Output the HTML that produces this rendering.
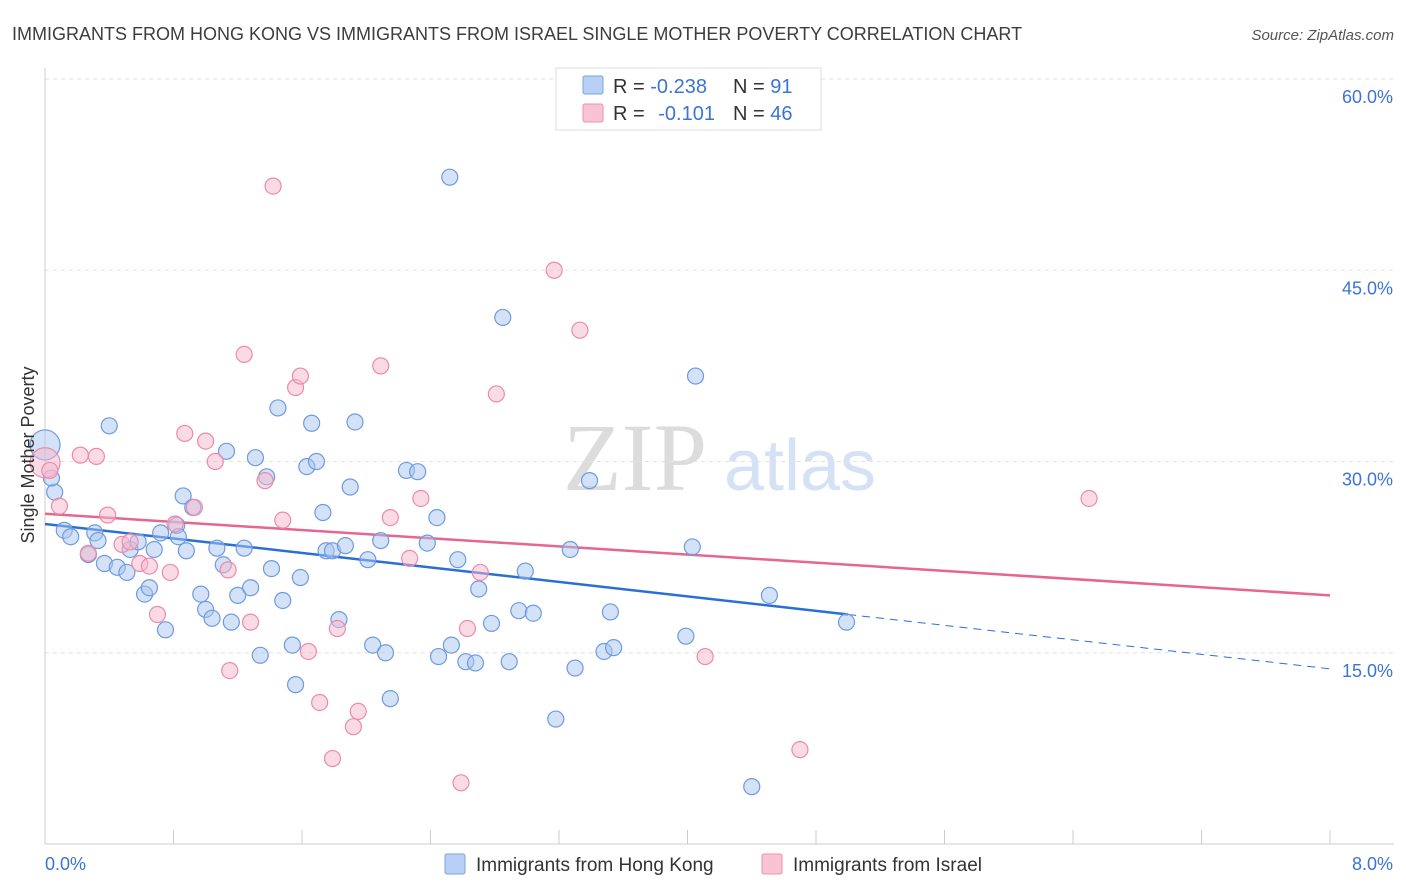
<!DOCTYPE html>
<html><head><meta charset="utf-8">
<style>
body{margin:0;background:#fff;font-family:"Liberation Sans",sans-serif;}
svg{display:block}
</style></head>
<body>
<svg id="chart" width="1406" height="892" xmlns="http://www.w3.org/2000/svg" font-family="Liberation Sans, sans-serif">
<text x="12" y="40" font-size="18" fill="#3d3d3d">IMMIGRANTS FROM HONG KONG VS IMMIGRANTS FROM ISRAEL SINGLE MOTHER POVERTY CORRELATION CHART</text>
<text x="1394" y="40" font-size="15" fill="#555" font-style="italic" text-anchor="end">Source: ZipAtlas.com</text>
<g>
<text x="635" y="490" font-size="96" font-family="Liberation Serif, serif" fill="#dcdcdc" text-anchor="middle">ZIP</text>
<text x="800" y="490" font-size="72" fill="#d5e2f5" text-anchor="middle">atlas</text>
</g>
<g id="grid"></g>
<g id="axes"></g>
<g id="trends"></g>
<g id="pts"></g>
<text transform="translate(34,455) rotate(-90)" font-size="18" fill="#333" text-anchor="middle">Single Mother Poverty</text>
<g>
<rect x="556" y="68" width="265" height="62" fill="#fff" stroke="#ddd"/>
<rect x="583" y="76" width="20" height="18" fill="#b8d0f3" stroke="#7aa3e0" rx="2"/>
<rect x="583" y="104" width="20" height="18" fill="#f8c4d4" stroke="#ee8fae" rx="2"/>
<text x="613" y="93" font-size="20" fill="#333">R = <tspan fill="#3b74d4">-0.238</tspan><tspan x="733">N = </tspan><tspan fill="#3b74d4">91</tspan></text>
<text x="613" y="120" font-size="20" fill="#333">R = <tspan fill="#3b74d4" dx="8">-0.101</tspan><tspan x="733">N = </tspan><tspan fill="#3b74d4">46</tspan></text>
</g>
<g>
<rect x="445" y="854" width="20" height="20" fill="#b8d0f3" stroke="#7aa3e0" rx="2"/>
<text x="476" y="871" font-size="19" fill="#333">Immigrants from Hong Kong</text>
<rect x="762" y="854" width="20" height="20" fill="#f8c4d4" stroke="#ee8fae" rx="2"/>
<text x="793" y="871" font-size="19" fill="#333">Immigrants from Israel</text>
</g>
</svg>
<script>
const hkX=[0,0.06,0.04,0.12,0.16,0.27,0.31,0.33,0.37,0.40,0.45,0.51,0.53,0.58,0.62,0.65,0.68,0.72,0.75,0.82,0.83,0.86,0.88,0.92,0.97,1.00,1.04,1.07,1.13,1.11,1.16,1.20,1.24,1.28,1.31,1.34,1.38,1.41,1.45,1.48,1.54,1.56,1.59,1.63,1.66,1.69,1.73,1.75,1.79,1.83,1.87,1.90,1.93,2.01,2.04,2.09,2.12,2.15,2.25,2.32,2.38,2.44,2.45,2.52,2.53,2.57,2.62,2.68,2.70,2.78,2.85,2.89,2.95,2.99,3.04,3.18,3.27,3.30,3.39,3.48,3.52,3.54,3.99,4.03,4.05,4.40,4.51,4.99];
const hkY=[31.3,27.6,28.7,24.6,24.1,22.7,24.4,23.8,22.0,32.8,21.7,21.3,23.1,23.7,19.6,20.1,23.1,24.4,16.8,25.0,24.1,27.3,23.0,26.4,19.6,18.4,17.7,23.2,30.8,21.9,17.4,19.5,23.2,20.1,30.3,14.8,28.8,21.6,34.2,19.1,15.6,12.5,20.9,29.6,33.0,30.0,26.0,23.0,23.0,17.6,23.4,28.0,33.1,22.3,15.6,23.8,15.0,11.4,29.3,29.2,23.6,25.6,14.7,52.3,15.6,22.3,14.3,14.2,20.0,17.3,41.3,14.3,18.3,21.4,18.1,9.8,23.1,13.8,28.5,15.1,18.2,15.4,16.3,23.3,36.7,4.5,19.5,17.4];
const isX=[0,0.03,0.09,0.22,0.27,0.32,0.39,0.48,0.53,0.59,0.65,0.70,0.78,0.81,0.87,0.93,1.00,1.06,1.14,1.15,1.24,1.28,1.37,1.42,1.48,1.56,1.59,1.64,1.71,1.79,1.82,1.92,1.95,2.09,2.15,2.27,2.34,2.59,2.63,2.71,2.81,3.17,3.33,4.11,4.70,6.50];
const isY=[29.9,29.3,26.5,30.5,22.8,30.4,25.8,23.5,23.7,22.0,21.8,18.0,21.3,25.1,32.2,26.4,31.6,30.0,21.5,13.6,38.4,17.4,28.5,51.6,25.4,35.8,36.7,15.1,11.1,6.7,16.9,9.2,10.4,37.5,25.6,22.4,27.1,4.8,16.9,21.3,35.3,45.0,40.3,14.7,7.4,27.1];
const hkTrend=[25.1,-1.42]; // intercept, slope
const isTrend=[25.9,-0.80];
const yTicks=[15,30,45,60];
const yTickLabels=["15.0%","30.0%","45.0%","60.0%"];
const xTicks=[0,0.8,1.6,2.4,3.2,4.0,4.8,5.6,6.4,7.2,8.0];

const X0=45,X1=1330,Y0=844,YS=12.75;
const sx=v=>X0+(X1-X0)*v/8;
const sy=v=>Y0-v*YS;
const NS="http://www.w3.org/2000/svg";
function mk(tag,attrs,parent){const e=document.createElementNS(NS,tag);for(const k in attrs)e.setAttribute(k,attrs[k]);parent.appendChild(e);return e;}
const grid=document.getElementById('grid'),axes=document.getElementById('axes'),trends=document.getElementById('trends'),pts=document.getElementById('pts');
yTicks.forEach((t,i)=>{
 const l=mk('line',{x1:X0,x2:1394,y1:sy(t),y2:sy(t),stroke:'#e2e2e2','stroke-dasharray':'4,4'},grid);
 
 
 const tx=mk('text',{x:1393,y:sy(t)+24,'font-size':18,fill:'#3b74d4','text-anchor':'end'},axes);
 tx.textContent=yTickLabels[i];
 
 
});
mk('line',{x1:X0,x2:X0,y1:68,y2:Y0,stroke:'#ccc'},axes);
mk('line',{x1:X0,x2:1394,y1:Y0,y2:Y0,stroke:'#ccc'},axes);
xTicks.forEach(t=>{
 const l=mk('line',{x1:sx(t),x2:sx(t),y1:Y0,y2:Y0-14,stroke:'#ccc'},axes);
 
 
});
const xl=mk('text',{x:45,y:870,'font-size':18,fill:'#3b74d4'},axes);xl.textContent='0.0%';


const xr=mk('text',{x:1393,y:870,'font-size':18,fill:'#3b74d4','text-anchor':'end'},axes);xr.textContent='8.0%';



function dots(xs,ys,fill,stroke,name){
 xs.forEach((x,i)=>{
  const r=i===0?15:8;
  const c=mk('circle',{cx:sx(x),cy:sy(ys[i]),r:r,fill:fill,'fill-opacity':0.5,stroke:stroke,'stroke-width':1.2},pts);
  
  
 });
}
dots(hkX,hkY,'#a9c6ef','#6e9be0','hong-kong-point');
dots(isX,isY,'#f5b8cc','#ec8aab','israel-point');
const f=(t,x)=>t[0]+t[1]*x;
const b1=mk('line',{x1:sx(0),y1:sy(f(hkTrend,0)),x2:sx(5),y2:sy(f(hkTrend,5)),stroke:'#2a6fd6','stroke-width':2.5},trends);


const b2=mk('line',{x1:sx(5),y1:sy(f(hkTrend,5)),x2:sx(8),y2:sy(f(hkTrend,8)),stroke:'#2a6fd6','stroke-width':1,'stroke-dasharray':'8,6'},trends);


const p1=mk('line',{x1:sx(0),y1:sy(f(isTrend,0)),x2:sx(8),y2:sy(f(isTrend,8)),stroke:'#e5668f','stroke-width':2.5},trends);


</script>
</body></html>
